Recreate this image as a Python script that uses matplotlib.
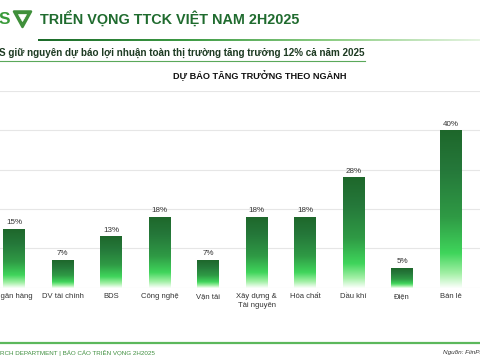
"""Dự báo tăng trưởng theo ngành - slide crop recreation."""
import numpy as np
import matplotlib.pyplot as plt
from matplotlib.colors import LinearSegmentedColormap
from matplotlib.patches import Polygon
from matplotlib.lines import Line2D

plt.rcParams["font.family"] = ["Liberation Sans", "DejaVu Sans"]

W, H = 480, 360

categories = ["Ngân hàng", "DV tài chính", "BDS", "Công nghệ", "Vận tải",
              "Xây dựng &\nTài nguyên", "Hóa chất", "Dầu khí", "Điện", "Bán lẻ"]
growth = [15, 7, 13, 18, 7, 18, 18, 28, 5, 40]
gridlines = [10, 20, 30, 40, 50]

DARK = "#1f6b2e"

bar_cmap = LinearSegmentedColormap.from_list(
    "bar", [(0.0, "#fbfffb"), (0.09, "#a3f0a6"), (0.22, "#3fd55b"),
            (0.45, "#2f9a45"), (0.75, "#25783a"), (1.0, "#1e672b")])


def fx(x):
    return x / W


def fy(y):
    return 1 - y / H


fig = plt.figure(figsize=(4.8, 3.6), dpi=100)
fig.patch.set_facecolor("white")

# ---- header ----
fig.text(fx(-1), fy(19), "S", fontsize=12.5, fontweight="bold", color="#3a9a3a",
         ha="left", va="center")
shield = Polygon([(fx(14), fy(11.5)), (fx(31), fy(11.5)), (fx(22.5), fy(27))],
                 closed=True, fc="#3f8f3a", ec="#3f8f3a", lw=1.8,
                 joinstyle="round", transform=fig.transFigure)
inner = Polygon([(fx(18.5), fy(14.5)), (fx(26.5), fy(14.5)), (fx(22.5), fy(21.5))],
                closed=True, fc="white", ec="white", lw=0.5,
                transform=fig.transFigure)
fig.add_artist(shield)
fig.add_artist(inner)

fig.text(fx(40), fy(19), "TRIỂN VỌNG TTCK VIỆT NAM 2H2025", fontsize=10.4,
         fontweight="bold", color=DARK, ha="left", va="center")

# gradient rule under the title
ax_rule = fig.add_axes([fx(38), fy(41.5), fx(480 - 38), 3 / H])
ax_rule.imshow(np.linspace(0, 1, 256)[None, :], aspect="auto",
               cmap=LinearSegmentedColormap.from_list(
                   "rule", ["#1c6a2a", "#3e9a45", "#8fce86", "#e6f4e2"]))
ax_rule.axis("off")

fig.text(fx(-1), fy(53), "S giữ nguyên dự báo lợi nhuận toàn thị trường tăng trưởng 12% cả năm 2025",
         fontsize=7.1, fontweight="bold", color="#1d3a22", ha="left", va="center")
fig.add_artist(Line2D([0, fx(365)], [fy(61), fy(61)], color="#5aa85a", lw=0.8,
                      transform=fig.transFigure))

fig.text(fx(260), fy(76), "DỰ BÁO TĂNG TRƯỞNG THEO NGÀNH", fontsize=6.6,
         fontweight="bold", color="#111111", ha="center", va="center")

# ---- chart ----
step = 48.5
x0 = 14
ax = fig.add_axes([0, fy(287.5), 1, (287.5 - 91) / H])

xs = np.arange(len(categories))
bar_w = 22 / step
bars = ax.bar(xs, growth, width=bar_w, color="none", edgecolor="none", zorder=2)
grad = np.linspace(0, 1, 256)[:, None]
for rect, v in zip(bars, growth):
    x = rect.get_x()
    im = ax.imshow(grad, extent=[x, x + bar_w, 0, v], origin="lower",
                   aspect="auto", cmap=bar_cmap, zorder=2, interpolation="bicubic")
    im.set_clip_path(rect)
    ax.annotate(f"{v}%", (x + bar_w / 2, v), xytext=(0, 1.8),
                textcoords="offset points", ha="center", va="bottom",
                fontsize=5.8, color="#333333")

ax.set_xlim(-x0 / step, (W - x0) / step)
ax.set_ylim(0, 50)
for g in gridlines:
    ax.axhline(g, color="#e6e6e6", lw=0.8, zorder=0)
ax.axhline(0, color="#dcdcdc", lw=0.8, zorder=1)

ax.set_xticks(xs)
ax.set_xticklabels(categories, fontsize=5.5, color="#333333", linespacing=1.35)
ax.tick_params(axis="x", length=0, pad=4)
ax.set_yticks([])
for s in ax.spines.values():
    s.set_visible(False)
ax.patch.set_alpha(0)

# ---- footer ----
fig.add_artist(Line2D([0, 1], [fy(342.5), fy(342.5)], color="#5cb85c", lw=1.6,
                      transform=fig.transFigure))
fig.text(fx(0), fy(352.5), "RCH DEPARTMENT | BÁO CÁO TRIỂN VỌNG 2H2025",
         fontsize=4.5, color="#3f8f3f", ha="left", va="center")
fig.text(fx(443), fy(352.5), "Nguồn: FiinPro, VCBS", fontsize=4.6,
         style="italic", color="#333333", ha="left", va="center")

fig.savefig("out.png", dpi=100)
